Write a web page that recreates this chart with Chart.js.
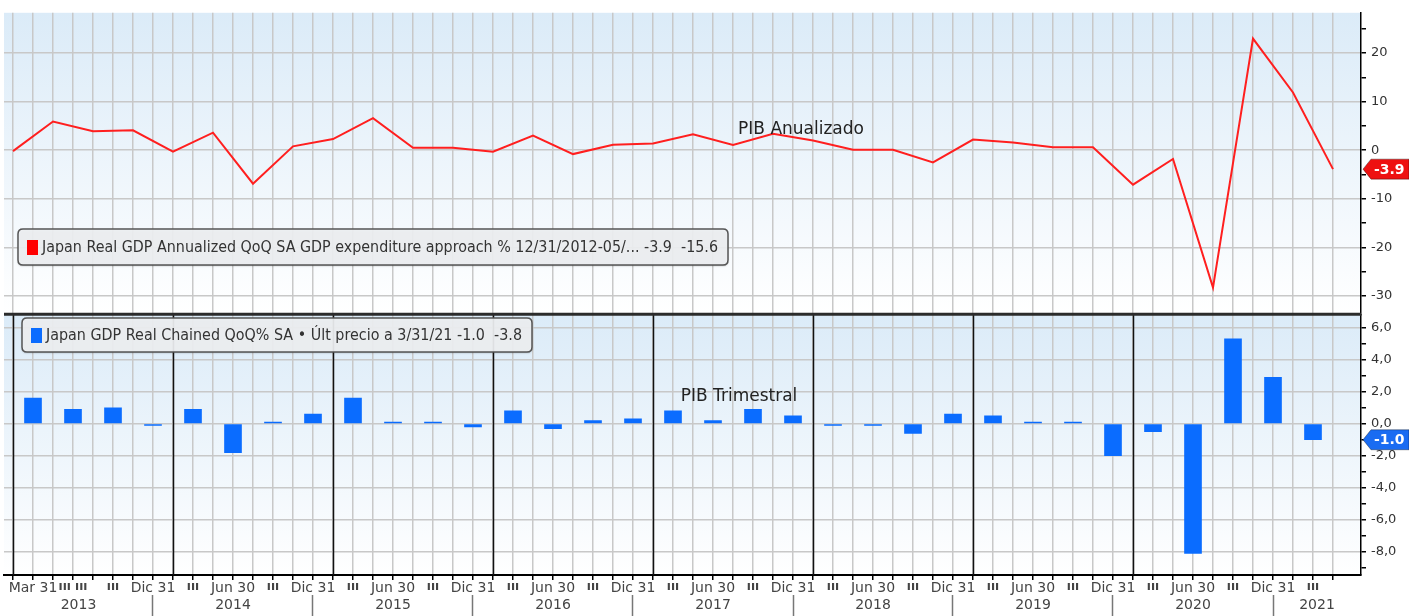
<!DOCTYPE html>
<html>
<head>
<meta charset="utf-8">
<title>PIB Japón</title>
<script src="https://cdn.jsdelivr.net/npm/chart.js@4.4.1/dist/chart.umd.min.js"></script>
<style>
  html, body { margin: 0; padding: 0; background: #fff; }
  #wrap { width: 1409px; height: 616px; }
</style>
</head>
<body>
<div id="wrap"><canvas id="gdp" width="1409" height="616"></canvas></div>
<script>
// PIB anualizado (t/t anualizado, %), 12/2012 .. 03/2021
const annualized = [-0.2,
  5.9, 3.9, 4.1, -0.3,
  3.6, -6.9, 0.8, 2.3,
  6.6, 0.5, 0.5, -0.3,
  3.0, -0.8, 1.1, 1.4,
  3.3, 1.1, 3.4, 2.0,
  0.1, 0.1, -2.5, 2.2,
  1.6, 0.6, 0.6, -7.1,
  -1.8, -28.3, 23.0, 11.9,
  -3.9];

// PIB trimestral (t/t %), 03/2013 .. 03/2021
const quarterly = [
  1.6, 0.9, 1.0, -0.1,
  0.9, -1.8, 0.1, 0.6,
  1.6, 0.1, 0.1, -0.2,
  0.8, -0.3, 0.2, 0.3,
  0.8, 0.2, 0.9, 0.5,
  -0.1, -0.1, -0.6, 0.6,
  0.5, 0.1, 0.1, -2.0,
  -0.5, -8.1, 5.3, 2.9,
  -1.0];

const quarterLabels = [
  'Mar 31', 'ııı ııı', 'ııı', 'Dic 31',
  'ııı', 'Jun 30', 'ııı', 'Dic 31',
  'ııı', 'Jun 30', 'ııı', 'Dic 31',
  'ııı', 'Jun 30', 'ııı', 'Dic 31',
  'ııı', 'Jun 30', 'ııı', 'Dic 31',
  'ııı', 'Jun 30', 'ııı', 'Dic 31',
  'ııı', 'Jun 30', 'ııı', 'Dic 31',
  'ııı', 'Jun 30', 'ııı', 'Dic 31',
  'ııı'];
const years = ['2013', '2014', '2015', '2016', '2017', '2018', '2019', '2020', '2021'];

const topTicks = [-30, -25, -20, -15, -10, -5, 0, 5, 10, 15, 20, 25];
const botTicks = [-9, -8, -7, -6, -5, -4, -3, -2, -1, 0, 1, 2, 3, 4, 5, 6];

const topLegend = 'Japan Real GDP Annualized QoQ SA GDP expenditure approach % 12/31/2012-05/... -3.9  -15.6';
const botLegend = 'Japan GDP Real Chained QoQ% SA • Últ precio a 3/31/21 -1.0  -3.8';

const FONT = 'DejaVu Sans';

function roundRect(ctx, x, y, w, h, r) {
  ctx.beginPath();
  ctx.moveTo(x + r, y);
  ctx.lineTo(x + w - r, y);
  ctx.quadraticCurveTo(x + w, y, x + w, y + r);
  ctx.lineTo(x + w, y + h - r);
  ctx.quadraticCurveTo(x + w, y + h, x + w - r, y + h);
  ctx.lineTo(x + r, y + h);
  ctx.quadraticCurveTo(x, y + h, x, y + h - r);
  ctx.lineTo(x, y + r);
  ctx.quadraticCurveTo(x, y, x + r, y);
  ctx.closePath();
}

function legendBox(ctx, x, y, w, h, color, text) {
  ctx.save();
  roundRect(ctx, x, y, w, h, 5);
  ctx.shadowColor = 'rgba(0,0,0,0.3)';
  ctx.shadowBlur = 2;
  ctx.shadowOffsetY = 1;
  ctx.fillStyle = 'rgba(240,242,244,0.92)';
  ctx.fill();
  ctx.shadowColor = 'rgba(0,0,0,0)';
  ctx.lineWidth = 1.5;
  ctx.strokeStyle = '#555';
  ctx.stroke();
  ctx.fillStyle = color;
  ctx.fillRect(x + 9, y + h / 2 - 7, 11, 15);
  ctx.fillStyle = '#333';
  ctx.font = '15px "' + FONT + '"';
  ctx.textBaseline = 'middle';
  ctx.textAlign = 'left';
  ctx.fillText(text, x + 24, y + h / 2 + 1, w - 34);
  ctx.restore();
}

function valueTag(ctx, x, y, fill, text) {
  ctx.save();
  ctx.beginPath();
  ctx.moveTo(x, y);
  ctx.lineTo(x + 8, y - 10);
  ctx.lineTo(1409, y - 10);
  ctx.lineTo(1409, y + 10);
  ctx.lineTo(x + 8, y + 10);
  ctx.closePath();
  ctx.fillStyle = fill;
  ctx.fill();
  ctx.lineWidth = 1;
  ctx.strokeStyle = 'rgba(0,0,0,0.35)';
  ctx.stroke();
  ctx.fillStyle = '#fff';
  ctx.font = 'bold 14px "' + FONT + '"';
  ctx.textBaseline = 'middle';
  ctx.textAlign = 'left';
  ctx.fillText(text, x + 11, y + 1);
  ctx.restore();
}

const panels = {
  id: 'panels',
  beforeDraw(chart) {
    const { ctx, chartArea: a, scales } = chart;
    ctx.save();
    for (const id of ['yTop', 'yBot']) {
      const s = scales[id];
      const g = ctx.createLinearGradient(0, s.top, 0, s.bottom);
      g.addColorStop(0, '#dbebf8');
      g.addColorStop(1, '#ffffff');
      ctx.fillStyle = g;
      ctx.fillRect(a.left, s.top, a.right - a.left, s.bottom - s.top);
    }
    ctx.restore();
  },
  beforeDatasetsDraw(chart) {
    const { ctx, scales } = chart;
    const x = scales.x, yb = scales.yBot;
    ctx.save();
    ctx.strokeStyle = '#111';
    ctx.lineWidth = 1.5;
    for (let v = -0.5; v < 30; v += 4) {
      const px = Math.round(x.getPixelForValue(v)) + 0.5;
      ctx.beginPath();
      ctx.moveTo(px, yb.top);
      ctx.lineTo(px, yb.bottom);
      ctx.stroke();
    }
    ctx.restore();
  },
  afterDraw(chart) {
    const { ctx, chartArea: a, scales } = chart;
    const yt = scales.yTop, yb = scales.yBot, x = scales.x;
    ctx.save();
    // divider between the two panels
    ctx.strokeStyle = '#2b2b2b';
    ctx.lineWidth = 3;
    ctx.beginPath();
    ctx.moveTo(a.left, yt.bottom);
    ctx.lineTo(a.right, yt.bottom);
    ctx.stroke();

    legendBox(ctx, 18, 229, 710, 36, '#ff0000', topLegend);
    legendBox(ctx, 22, 318, 510, 34, '#0a6cff', botLegend);

    ctx.fillStyle = '#222';
    ctx.font = '17px "' + FONT + '"';
    ctx.textAlign = 'center';
    ctx.textBaseline = 'middle';
    ctx.fillText('PIB Anualizado', x.getPixelForValue(19.2), yt.getPixelForValue(4.3), 135);
    ctx.fillText('PIB Trimestral', x.getPixelForValue(17.65), yb.getPixelForValue(1.7), 134);

    const lastA = annualized[annualized.length - 1];
    const lastQ = quarterly[quarterly.length - 1];
    valueTag(ctx, a.right + 2, yt.getPixelForValue(lastA), '#ee1111', lastA.toFixed(1));
    valueTag(ctx, a.right + 2, yb.getPixelForValue(lastQ), '#1a6cf2', lastQ.toFixed(1));
    ctx.restore();
  }
};

const tickFont = { family: FONT, size: 13 };

new Chart(document.getElementById('gdp'), {
  type: 'bar',
  data: {
    datasets: [
      {
        type: 'line',
        label: 'PIB Anualizado',
        data: annualized.map((v, j) => ({ x: j - 0.5, y: v })),
        xAxisID: 'x',
        yAxisID: 'yTop',
        borderColor: '#ff1f1f',
        borderWidth: 2,
        pointRadius: 0,
        tension: 0
      },
      {
        type: 'bar',
        label: 'PIB Trimestral',
        data: quarterly.map((v, i) => ({ x: i, y: v })),
        xAxisID: 'x',
        yAxisID: 'yBot',
        backgroundColor: '#0a6cff',
        borderWidth: 0,
        barThickness: 17
      }
    ]
  },
  options: {
    responsive: false,
    animation: false,
    layout: { padding: { top: 10, left: 4, right: 0, bottom: 0 } },
    plugins: { legend: { display: false }, tooltip: { enabled: false } },
    scales: {
      x: {
        type: 'linear', position: 'bottom', weight: 0,
        min: -0.725, max: 33.2, offset: false,
        afterBuildTicks: s => {
          const t = [];
          for (let v = -0.5; v <= 32.5; v += 0.5) t.push({ value: v });
          s.ticks = t;
        },
        afterFit: s => { s.height = 20; },
        grid: { color: '#c8c8c8', lineWidth: 1.5, tickColor: '#000', tickWidth: 1.5, tickLength: 5, offset: false },
        border: { color: '#000', width: 2 },
        ticks: {
          autoSkip: false, maxRotation: 0, padding: 0, color: '#444',
          font: c => (c.tick && quarterLabels[c.tick.value] && quarterLabels[c.tick.value].startsWith('ı'))
            ? { family: FONT, size: 12, weight: 'bold' }
            : { family: FONT, size: 14 },
          callback: v => Number.isInteger(v) ? quarterLabels[v] : ''
        }
      },
      xYear: {
        type: 'linear', position: 'bottom', weight: 1,
        min: -0.725, max: 33.2, offset: false,
        afterBuildTicks: s => {
          const t = [];
          s.yearMap = new Map();
          years.forEach((y, k) => {
            const lo = Math.max(s.min, 4 * k - 1), hi = Math.min(s.max, 4 * k + 3);
            const c = (lo + hi) / 2;
            s.yearMap.set(c, y);
            t.push({ value: c });
            if (k > 0) t.push({ value: 4 * k - 1 });
          });
          t.sort((p, q) => p.value - q.value);
          s.ticks = t;
        },
        afterFit: s => { s.height = 21; },
        grid: {
          drawOnChartArea: false, drawTicks: true, tickLength: 21, tickWidth: 1.5, offset: false,
          tickColor: c => (c.tick && Number.isInteger(c.tick.value) && (c.tick.value + 1) % 4 === 0) ? '#777' : 'rgba(0,0,0,0)'
        },
        border: { display: false },
        ticks: {
          autoSkip: false, maxRotation: 0, padding: -19, color: '#444',
          font: { family: FONT, size: 14 },
          callback: function (v) { return this.yearMap.get(v) || ''; }
        }
      },
      yTop: {
        type: 'linear', position: 'right', stack: 'panels', stackWeight: 303,
        min: -33.8, max: 28.3,
        afterBuildTicks: s => { s.ticks = topTicks.map(v => ({ value: v })); },
        afterFit: s => { s.width = 48; },
        grid: {
          color: c => c.tick && c.tick.value % 10 === 0 ? '#c8c8c8' : 'rgba(0,0,0,0)',
          lineWidth: 1.5, tickColor: '#000', tickWidth: 1.5, tickLength: 5
        },
        border: { color: '#000', width: 1.5 },
        ticks: {
          autoSkip: false, padding: 5, color: '#333', font: tickFont,
          callback: v => v % 10 === 0 ? String(v) : ''
        }
      },
      yBot: {
        type: 'linear', position: 'right', stack: 'panels', stackWeight: 262,
        min: -9.44, max: 6.83,
        afterBuildTicks: s => { s.ticks = botTicks.map(v => ({ value: v })); },
        afterFit: s => { s.width = 48; },
        grid: {
          color: c => c.tick && c.tick.value % 2 === 0 ? '#c8c8c8' : 'rgba(0,0,0,0)',
          lineWidth: 1.5, tickColor: '#000', tickWidth: 1.5, tickLength: 5
        },
        border: { color: '#000', width: 1.5 },
        ticks: {
          autoSkip: false, padding: 5, color: '#333', font: tickFont,
          callback: v => v % 2 === 0 ? v.toFixed(1).replace('.', ',') : ''
        }
      }
    }
  },
  plugins: [panels]
});
</script>
</body>
</html>
